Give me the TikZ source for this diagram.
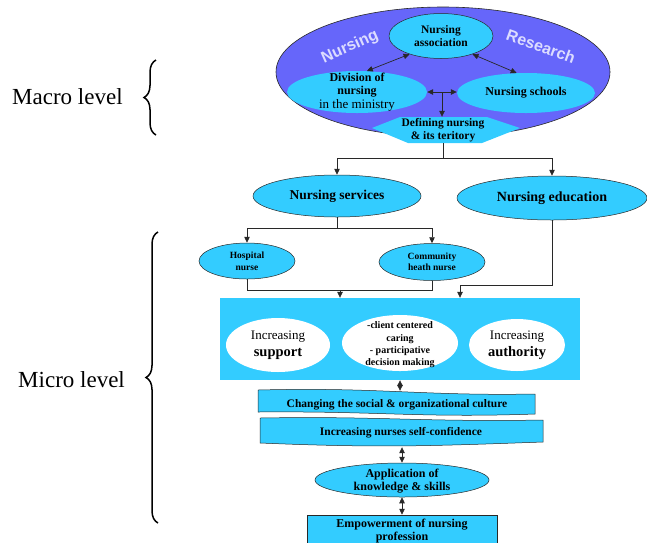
\documentclass[tikz,border=0pt]{standalone}
\usepackage{fontspec}
\setmainfont{Liberation Serif}
\setsansfont{Liberation Sans}
\usetikzlibrary{arrows.meta,shapes.geometric,decorations.pathreplacing,calc}
\definecolor{purp}{RGB}{102,102,250}
\definecolor{cy}{RGB}{51,204,255}
\definecolor{wa}{RGB}{220,220,255}
\definecolor{lnc}{RGB}{40,40,40}
\begin{document}
\begin{tikzpicture}[x=1pt,y=-1pt,
  ell/.style={ellipse, fill=cy, inner sep=0pt, align=center, font=\bfseries},
  oell/.style={ell, draw=lnc, line width=0.5pt},
  wel/.style={ellipse, fill=white, inner sep=0pt, align=center},
  txt/.style={inner sep=0pt, align=center},
  wire/.style={draw=lnc, line width=0.7pt},
  arr/.style={wire, -{Triangle[length=6pt,width=5.5pt]}},
  darr/.style={wire, {Triangle[length=6pt,width=5.5pt]}-{Triangle[length=6pt,width=5.5pt]}},
  brc/.style={decorate, decoration={brace, amplitude=12pt}, line width=1.5pt},
  lvl/.style={font=\fontsize{23}{26}\selectfont, inner sep=0pt},
  wart/.style={font=\sffamily\bfseries\fontsize{16}{16}\selectfont, text=wa, inner sep=0pt}
]
\useasboundingbox (0,0) rectangle (647,542);
\clip (0,0) rectangle (647,542);

% ---- macro level
\node[ellipse, draw=lnc, line width=0.6pt, fill=purp, minimum width=334pt, minimum height=130pt, inner sep=0pt] (big) at (443,72) {};
\node[wart, rotate=24] (wn) at (350,47) {Nursing};
\node[wart, rotate=-20] (wr) at (541,46) {Research};

\node[oell, minimum width=104pt, minimum height=45pt, font=\bfseries\fontsize{11.5}{13.5}\selectfont] (assoc) at (441,36) {Nursing\\association};
\node[ell, minimum width=140pt, minimum height=42pt] (div) at (357,92) {};
\node[txt, font=\bfseries\fontsize{12}{13.5}\selectfont] (divt) at (div) {Division of\\nursing\\{\mdseries\fontsize{13}{13.5}\selectfont in the ministry}};
\node[ell, minimum width=138pt, minimum height=40pt, font=\bfseries\fontsize{12}{14}\selectfont] (schools) at (526,93) {Nursing schools};

\fill[cy] (400,117) -- (487,117) -- (520,128) -- (482,143) -- (408,143) -- (372,128) -- cycle;
\node[txt, minimum width=96pt, minimum height=26pt, font=\bfseries\fontsize{11.5}{13}\selectfont] (def) at (443,130) {Defining nursing\\\& its teritory};

\draw[darr] (assoc.210) -- (div.65);
\draw[darr] (assoc.330) -- (schools.115);
\draw[darr] (div.east) -- (div.east -| schools.west);
\coordinate (m1) at ($(div.east)!0.5!(schools.west)$);
\draw[arr] (m1) -- (m1 |- def.north);

% ---- services / education
\node[oell, minimum width=168pt, minimum height=42pt, font=\bfseries\fontsize{13.5}{15}\selectfont] (serv) at (337,196) {Nursing services};
\node[oell, minimum width=190pt, minimum height=44pt, font=\bfseries\fontsize{14}{16}\selectfont] (edu) at (552,198) {Nursing education};

\coordinate (s1) at (443,158);
\draw[wire] (def.south) -- (s1);
\draw[arr] (s1) -| (serv.north);
\draw[arr] (s1) -| (edu.north);

\node[oell, minimum width=96pt, minimum height=36pt, font=\bfseries\fontsize{9.5}{12}\selectfont] (hosp) at (247,261) {Hospital\\nurse};
\node[oell, minimum width=106pt, minimum height=37pt, font=\bfseries\fontsize{9.5}{11.5}\selectfont] (comm) at (432,262) {Community\\heath nurse};

\coordinate (s2) at (337,228);
\draw[wire] (serv.south) -- (s2);
\draw[arr] (s2) -| (hosp.north);
\draw[arr] (s2) -| (comm.north);

% ---- big box
\node[fill=cy, minimum width=360pt, minimum height=82pt, inner sep=0pt] (box) at (400,339) {};
\node[wel, minimum width=104pt, minimum height=54pt, font=\fontsize{13}{17}\selectfont] (sup) at (278,345) {Increasing\\{\bfseries\fontsize{14.5}{17}\selectfont support}};
\node[wel, minimum width=116pt, minimum height=56pt] (mid) at (400,343) {};
\node[txt, font=\bfseries\fontsize{10}{12.3}\selectfont] (midt) at (400,345) {-client centered\\caring\\- participative\\decision making};
\node[wel, minimum width=96pt, minimum height=52pt, font=\fontsize{13}{17}\selectfont] (auth) at (517,345) {Increasing\\{\bfseries\fontsize{14.5}{17}\selectfont authority}};

\coordinate (j1) at (340,290);
\coordinate (j2) at (460,285);
\draw[wire] (hosp.south) |- (j1) -| (comm.south);
\draw[arr] (j1) -- (j1 |- box.north);
\draw[arr] (edu.south) |- (j2) -- (j2 |- box.north);

% ---- banners
\filldraw[fill=cy, draw=lnc, line width=0.5pt] (258,390) .. controls (380,387) and (420,396) .. (535,394) -- (535,414) .. controls (420,418) and (380,411) .. (258,412) -- cycle;
\filldraw[fill=cy, draw=lnc, line width=0.5pt] (260,418) .. controls (380,416) and (420,422) .. (543,420) -- (543,442) .. controls (430,446) and (380,448) .. (260,443) -- cycle;
\node[txt, minimum height=28pt, font=\bfseries\fontsize{11.5}{13}\selectfont] (chg) at (397,405) {Changing the social \& organizational culture};
\node[txt, minimum height=28pt, font=\bfseries\fontsize{11.5}{13}\selectfont] (conf) at (401,433) {Increasing nurses self-confidence};

\draw[darr] (box.south) -- (box.south |- chg.north);

\node[oell, minimum width=174pt, minimum height=34pt] (app) at (402,480) {};
\node[txt, font=\bfseries\fontsize{12}{13}\selectfont] (appt) at (402,481) {Application of\\knowledge \& skills};
\draw[darr] (conf.south -| app.north) -- (app.north);

\node[draw=lnc, line width=0.5pt, fill=cy, minimum width=190pt, minimum height=32pt, inner sep=0pt, align=center, font=\bfseries\fontsize{12}{13.5}\selectfont] (emp) at (402,531) {Empowerment of nursing\\profession};
\draw[darr] (app.south) -- (emp.north);

% ---- levels
\node[lvl, anchor=west] (macro) at (12,97) {Macro level};
\node[lvl, anchor=west] (micro) at (18,380) {Micro level};
\draw[brc] (156,135) -- (156,60);
\draw[brc] (158,523) -- (158,232);
\end{tikzpicture}
\end{document}
